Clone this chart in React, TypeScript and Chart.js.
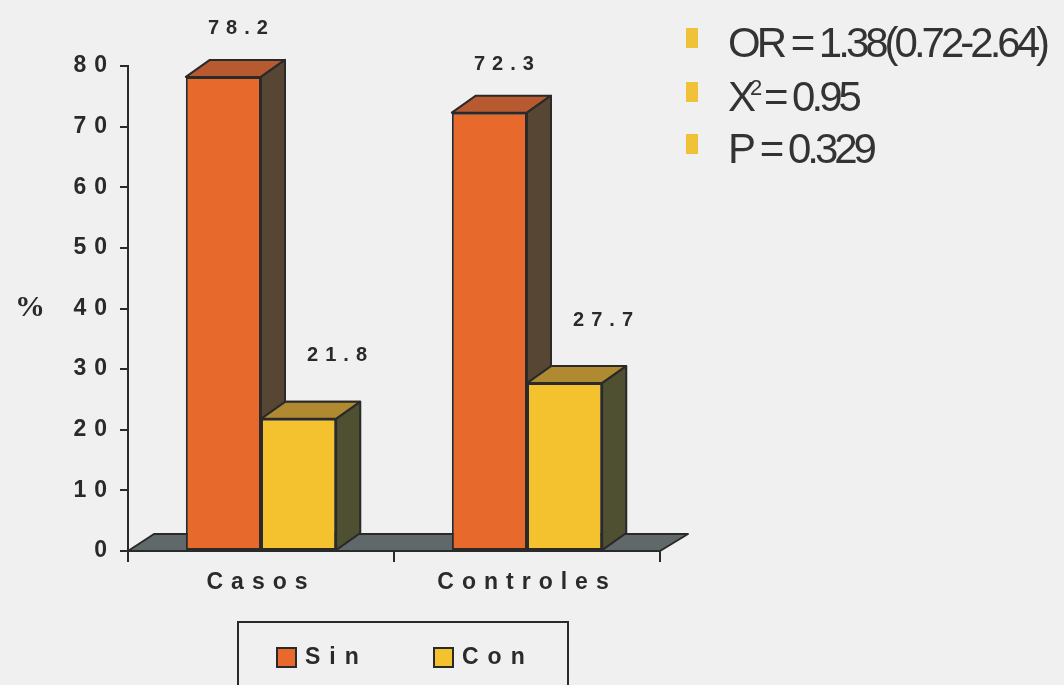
import React, { useEffect, useRef } from 'react';
import { Chart, registerables } from 'chart.js';
Chart.register(...registerables);

// ---- data ----
const categories = ['Casos', 'Controles'];
const seriesNames = ['Sin', 'Con'];
const sinValues = [78.2, 72.3];
const conValues = [21.8, 27.7];
const yMin = 0;
const yMax = 80;
const yStep = 10;
const statOR = 'OR = 1.38(0.72-2.64)';
const statChiMain = 'X';
const statChiSup = '2';
const statChiRest = ' = 0.95';
const statP = 'P = 0.329';

// ---- style ----
const BG = '#f0f0f0';
const INK = '#2a2a2a';
const FRONT = ['#e8692c', '#f3c22e'];
const TOP = ['#b75a30', '#b08a30'];
const SIDE = ['#574634', '#4f4f32'];
const FLOOR = '#616869';
const DX = 24;
const DY = 17;
const LABEL_OFF = [
  { x: 14, y: 31 },
  { x: 38, y: 46 },
];

function poly(ctx: CanvasRenderingContext2D, pts: number[][], fill: string) {
  ctx.beginPath();
  ctx.moveTo(pts[0][0], pts[0][1]);
  for (let i = 1; i < pts.length; i++) ctx.lineTo(pts[i][0], pts[i][1]);
  ctx.closePath();
  ctx.fillStyle = fill;
  ctx.fill();
  ctx.lineWidth = 2;
  ctx.lineJoin = 'round';
  ctx.strokeStyle = INK;
  ctx.stroke();
}

function drawFaces(ctx: CanvasRenderingContext2D, el: any, i: number) {
  const l = el.x - el.width / 2;
  const r = el.x + el.width / 2;
  const t = el.y;
  const b = el.base;
  poly(ctx, [[l, t], [l + DX, t - DY], [r + DX, t - DY], [r, t]], TOP[i]);
  poly(ctx, [[r, t], [r + DX, t - DY], [r + DX, b - DY], [r, b]], SIDE[i]);
}

const threeD = {
  id: 'threeD',
  beforeDraw(chart: any) {
    const ctx = chart.ctx;
    ctx.save();
    ctx.fillStyle = BG;
    ctx.fillRect(0, 0, chart.width, chart.height);
    ctx.restore();
    (ctx as any).letterSpacing = '8px';
  },
  beforeDatasetsDraw(chart: any) {
    const ctx = chart.ctx;
    const a = chart.chartArea;
    const yb = chart.scales.y.getPixelForValue(0);
    ctx.save();
    poly(ctx, [[a.left, yb], [a.right, yb], [a.right + DX + 4, yb - DY], [a.left + DX + 2, yb - DY]], FLOOR);
    ctx.restore();
  },
  afterDatasetDraw(chart: any, args: any) {
    const ctx = chart.ctx;
    const i = args.index;
    const meta = chart.getDatasetMeta(i);
    ctx.save();
    if (i === 0) {
      // the front series (drawn later by Chart.js) must stay in front of this one's side faces
      const other = chart.getDatasetMeta(1);
      ctx.save();
      ctx.beginPath();
      ctx.rect(0, 0, chart.width, chart.height);
      other.data.forEach((el: any) => {
        const l = el.x - el.width / 2;
        ctx.rect(l, el.y, el.width, el.base - el.y);
      });
      ctx.clip('evenodd');
      meta.data.forEach((el: any) => drawFaces(ctx, el, 0));
      ctx.restore();
      other.data.forEach((el: any) => drawFaces(ctx, el, 1));
    } else {
      meta.data.forEach((el: any) => drawFaces(ctx, el, i));
    }
    ctx.restore();
  },
  afterDraw(chart: any) {
    const ctx = chart.ctx;
    ctx.save();
    // value labels
    (ctx as any).letterSpacing = '7px';
    ctx.font = 'bold 20px "Liberation Sans", Arial, sans-serif';
    ctx.fillStyle = INK;
    ctx.textAlign = 'center';
    ctx.textBaseline = 'middle';
    chart.data.datasets.forEach((ds: any, i: number) => {
      const meta = chart.getDatasetMeta(i);
      meta.data.forEach((el: any, j: number) => {
        const v = ds.data[j];
        ctx.fillText(v.toFixed(1), el.x + LABEL_OFF[i].x + 4, el.y - DY - LABEL_OFF[i].y);
      });
    });

    // % axis label
    (ctx as any).letterSpacing = '0px';
    ctx.font = 'bold 30px "Liberation Serif", "Times New Roman", serif';
    ctx.textAlign = 'center';
    ctx.fillText('%', 30, chart.scales.y.getPixelForValue(40));

    // legend box
    ctx.lineWidth = 2;
    ctx.strokeStyle = INK;
    ctx.strokeRect(238, 622, 330, 90);
    const legX = [277, 434];
    (ctx as any).letterSpacing = '9px';
    ctx.font = 'bold 23px "Liberation Sans", Arial, sans-serif';
    ctx.textAlign = 'left';
    ctx.textBaseline = 'middle';
    chart.data.datasets.forEach((ds: any, i: number) => {
      ctx.fillStyle = FRONT[i];
      ctx.fillRect(legX[i], 648, 19, 19);
      ctx.strokeRect(legX[i], 648, 19, 19);
      ctx.fillStyle = INK;
      ctx.fillText(ds.label, legX[i] + 28, 658);
    });

    // stats
    ctx.textBaseline = 'alphabetic';
    const sq = '#efc23a';
    const rows = [57, 111, 163];
    rows.forEach((yb) => {
      ctx.fillStyle = sq;
      ctx.fillRect(686, yb - 29, 12, 20);
    });
    ctx.fillStyle = '#333333';
    (ctx as any).letterSpacing = '-4px';
    ctx.font = '42px "Liberation Sans", Arial, sans-serif';
    ctx.fillText(statOR, 728, rows[0]);
    ctx.fillText(statChiMain, 728, rows[1]);
    const xw = ctx.measureText(statChiMain).width;
    ctx.font = '22px "Liberation Sans", Arial, sans-serif';
    ctx.fillText(statChiSup, 728 + xw - 2, rows[1] - 16);
    const sw = ctx.measureText(statChiSup).width;
    ctx.font = '42px "Liberation Sans", Arial, sans-serif';
    ctx.fillText(statChiRest, 728 + xw + sw - 4, rows[1]);
    ctx.fillText(statP, 728, rows[2]);
    ctx.restore();
  },
};

export default function App() {
  const ref = useRef<HTMLCanvasElement | null>(null);
  useEffect(() => {
    if (!ref.current) return;
    const font = { family: '"Liberation Sans", Arial, sans-serif', size: 23, weight: 'bold' as const };
    const chart = new Chart(ref.current, {
      type: 'bar',
      data: {
        labels: categories,
        datasets: [
          { label: seriesNames[0], data: sinValues, backgroundColor: FRONT[0], borderColor: INK, borderWidth: 2, borderSkipped: false },
          { label: seriesNames[1], data: conValues, backgroundColor: FRONT[1], borderColor: INK, borderWidth: 2, borderSkipped: false },
        ],
      },
      options: {
        animation: false,
        responsive: true,
        maintainAspectRatio: false,
        datasets: { bar: { categoryPercentage: 0.565, barPercentage: 1 } },
        layout: { padding: { top: 66, right: 404, left: 0, bottom: 0 } },
        plugins: { legend: { display: false }, tooltip: { enabled: false } },
        scales: {
          x: {
            grid: { display: true, drawOnChartArea: false, drawTicks: true, tickLength: 11, color: INK, lineWidth: 2, offset: true },
            border: { display: true, color: INK, width: 2 },
            ticks: { color: INK, font, padding: 7, autoSkip: false, maxRotation: 0 },
            afterFit: (s: any) => { s.height = 134; },
          },
          y: {
            min: yMin,
            max: yMax,
            grid: { display: true, drawOnChartArea: false, tickLength: 8, color: INK, lineWidth: 2 },
            border: { display: true, color: INK, width: 2 },
            ticks: { stepSize: yStep, color: INK, font, padding: 5 },
            afterFit: (s: any) => { s.width = 128; },
          },
        },
      },
      plugins: [threeD],
    });
    return () => chart.destroy();
  }, []);
  return (
    <div style={{ position: 'absolute', left: 0, top: 0, width: 1064, height: 685, background: BG }}>
      <canvas ref={ref} />
    </div>
  );
}
